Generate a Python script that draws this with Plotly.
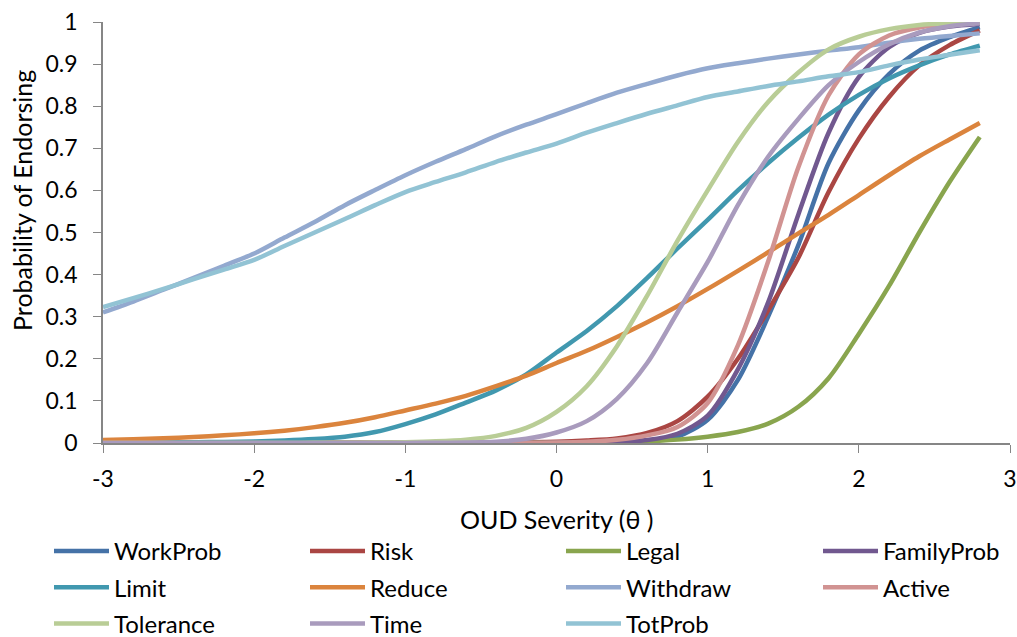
import plotly.graph_objects as go

theta = [-3.0, -2.8, -2.6, -2.4, -2.2, -2.0, -1.8, -1.6, -1.4, -1.2,
         -1.0, -0.8, -0.6, -0.4, -0.2, 0.0, 0.2, 0.4, 0.6, 0.8,
         1.0, 1.2, 1.4, 1.6, 1.8, 2.0, 2.2, 2.4, 2.6, 2.8]

work_prob = [0, 0, 0, 0, 0, 0, 0, 0, 0, 0,
             0.0000, 0.0000, 0.0001, 0.0001, 0.0001, 0.0002, 0.0006, 0.0015, 0.004, 0.015,
             0.055, 0.15, 0.30, 0.47, 0.665, 0.79, 0.876, 0.932, 0.964, 0.988]
risk = [0.0000, 0.0000, 0.0001, 0.0001, 0.0001, 0.0002, 0.0002, 0.0003, 0.0004, 0.0005,
        0.0006, 0.0008, 0.001, 0.0015, 0.002, 0.003, 0.006, 0.011, 0.024, 0.052,
        0.11, 0.20, 0.315, 0.44, 0.596, 0.723, 0.822, 0.897, 0.945, 0.98]
legal = [0, 0, 0, 0, 0, 0, 0, 0, 0, 0,
         0.0001, 0.0001, 0.0002, 0.0002, 0.0003, 0.0005, 0.001, 0.002, 0.004, 0.008,
         0.015, 0.026, 0.046, 0.086, 0.154, 0.259, 0.373, 0.50, 0.62, 0.727]
family_prob = [0, 0, 0, 0, 0, 0, 0, 0, 0, 0,
               0, 0, 0, 0, 0.0001, 0.0003, 0.0008, 0.002, 0.007, 0.022,
               0.065, 0.175, 0.334, 0.543, 0.737, 0.869, 0.940, 0.974, 0.989, 0.995]
limit = [0.0005, 0.0008, 0.0012, 0.0018, 0.0026, 0.0038, 0.006, 0.0095, 0.015, 0.026,
         0.045, 0.068, 0.096, 0.125, 0.163, 0.215, 0.266, 0.325, 0.392, 0.462,
         0.530, 0.600, 0.665, 0.725, 0.780, 0.827, 0.866, 0.897, 0.923, 0.944]
reduce_ = [0.0070, 0.0089, 0.0113, 0.0143, 0.0182, 0.0230, 0.0293, 0.0377, 0.0479, 0.0612,
           0.0773, 0.0936, 0.112, 0.135, 0.160, 0.190, 0.219, 0.252, 0.287, 0.325,
           0.366, 0.409, 0.453, 0.498, 0.542, 0.589, 0.636, 0.681, 0.721, 0.760]
withdraw = [0.310, 0.336, 0.364, 0.392, 0.421, 0.450, 0.488, 0.525, 0.565, 0.601,
            0.636, 0.668, 0.698, 0.729, 0.756, 0.781, 0.807, 0.832, 0.853, 0.873,
            0.890, 0.902, 0.913, 0.923, 0.932, 0.940, 0.951, 0.960, 0.967, 0.973]
active = [0, 0, 0, 0, 0, 0, 0, 0, 0, 0,
          0.0000, 0.0001, 0.0001, 0.0002, 0.0005, 0.0012, 0.003, 0.0075, 0.018, 0.038,
          0.095, 0.232, 0.431, 0.655, 0.826, 0.923, 0.968, 0.987, 0.995, 0.998]
tolerance = [0, 0, 0, 0, 0, 0.0001, 0.0002, 0.0003, 0.0005, 0.001,
             0.002, 0.004, 0.008, 0.017, 0.036, 0.074, 0.135, 0.23, 0.35, 0.48,
             0.60, 0.715, 0.81, 0.88, 0.935, 0.965, 0.983, 0.993, 0.997, 0.999]
time_ = [0, 0, 0, 0, 0, 0, 0, 0, 0.0001, 0.0001,
         0.0002, 0.0005, 0.001, 0.003, 0.010, 0.025, 0.052, 0.105, 0.19, 0.31,
         0.43, 0.565, 0.68, 0.77, 0.85, 0.905, 0.947, 0.975, 0.99, 0.997]
tot_prob = [0.323, 0.344, 0.366, 0.389, 0.412, 0.435, 0.468, 0.500, 0.532, 0.565,
            0.596, 0.620, 0.643, 0.668, 0.690, 0.711, 0.737, 0.760, 0.782, 0.802,
            0.822, 0.835, 0.848, 0.859, 0.871, 0.881, 0.897, 0.911, 0.922, 0.933]

names = ["WorkProb", "Risk", "Legal", "FamilyProb", "Limit", "Reduce",
         "Withdraw", "Active", "Tolerance", "Time", "TotProb"]
series = [work_prob, risk, legal, family_prob, limit, reduce_,
          withdraw, active, tolerance, time_, tot_prob]
colors = ["#4572A7", "#AA4643", "#89A54E", "#71588F", "#4198AF", "#DB843D",
          "#93A9CF", "#D19392", "#B9CD96", "#A99BBD", "#92C3D4"]

x_ticks = [-3, -2, -1, 0, 1, 2, 3]
x_tick_text = ["-3", "-2", "-1", "0", "1", "2", "3"]
y_ticks = [0, 0.1, 0.2, 0.3, 0.4, 0.5, 0.6, 0.7, 0.8, 0.9, 1]
y_tick_text = ["0", "0.1", "0.2", "0.3", "0.4", "0.5", "0.6", "0.7", "0.8", "0.9", "1"]

FONT = "Lato"
W, H = 1017, 637
ML, MR, MT, MB = 103, 7, 22, 194
PW, PH = W - ML - MR, H - MT - MB
legend_ids = ["legend", "legend2", "legend3", "legend4"]
col_left_px = [49, 305, 561, 818]
legend_top_px = 529

fig = go.Figure()
for i, (name, vals, col) in enumerate(zip(names, series, colors)):
    fig.add_trace(go.Scatter(
        x=theta, y=vals, name=name, mode="lines",
        line=dict(color=col, width=4.5, shape="spline", smoothing=0.8),
        legend=legend_ids[i % 4], legendgroup=name,
    ))

axis_col = "#868686"
layout_legends = {}
for k, lid in enumerate(legend_ids):
    layout_legends[lid] = dict(
        orientation="v",
        x=(col_left_px[k] - ML) / PW, xanchor="left",
        y=(H - MB - legend_top_px) / PH, yanchor="top",
        font=dict(family=FONT, size=24, color="#000000"),
        tracegroupgap=2, itemwidth=55, bgcolor="rgba(0,0,0,0)",
    )

fig.update_layout(
    width=W, height=H,
    margin=dict(l=ML, r=MR, t=MT, b=MB, autoexpand=False),
    paper_bgcolor="white", plot_bgcolor="white",
    font=dict(family=FONT, size=23, color="#000000"),
    showlegend=True,
    xaxis=dict(
        range=[-3, 3], tickvals=x_ticks, ticktext=x_tick_text, ticks="outside",
        ticklen=8, tickcolor=axis_col, showline=True, linecolor=axis_col,
        linewidth=1.5, showgrid=False, zeroline=False, tickfont=dict(size=23),
        ticklabelstandoff=7, ticklabeloverflow="allow", automargin=False,
    ),
    yaxis=dict(
        range=[0, 1], tickvals=y_ticks, ticktext=y_tick_text, ticks="outside",
        ticklen=8, tickcolor=axis_col, showline=True, linecolor=axis_col,
        linewidth=1.5, showgrid=False, zeroline=False, tickfont=dict(size=23),
        ticklabelstandoff=11, automargin=False,
    ),
    annotations=[
        dict(text="OUD Severity (θ )", xref="paper", yref="paper", x=0.5, y=-0.18,
             xanchor="center", yanchor="middle", showarrow=False,
             font=dict(family=FONT, size=25, color="#000000")),
        dict(text="Probability of Endorsing", xref="paper", yref="paper",
             x=(22 - ML) / PW, y=0.575, xanchor="center", yanchor="middle",
             textangle=-90, showarrow=False,
             font=dict(family=FONT, size=25, color="#000000")),
    ],
    **layout_legends,
)

fig.write_html(
    "out.html",
    config={"displayModeBar": False},
    post_script="document.body.style.margin='0';document.body.style.padding='0';"
                "document.body.style.overflow='hidden';",
)
